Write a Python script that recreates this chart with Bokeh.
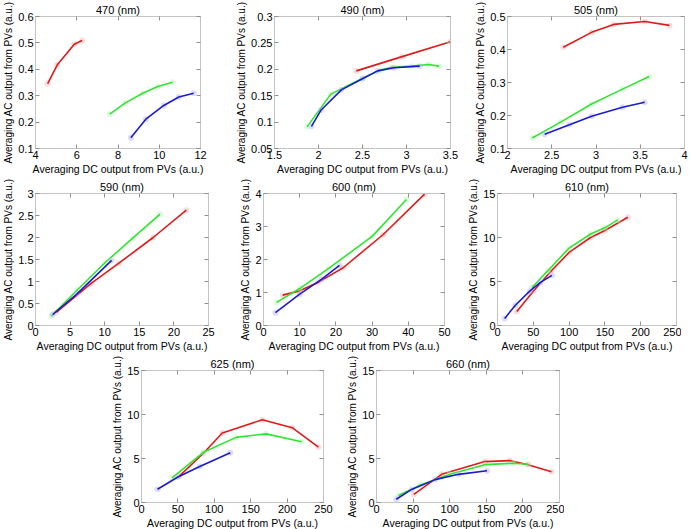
from bokeh.plotting import figure
from bokeh.models import Range1d, FixedTicker, LinearAxis, Spacer
from bokeh.layouts import column, row
from bokeh.embed import file_html
from bokeh.resources import INLINE

# ---------------- data ----------------
titles = ["470 (nm)", "490 (nm)", "505 (nm)", "590 (nm)", "600 (nm)", "610 (nm)", "625 (nm)", "660 (nm)"]
x_label = "Averaging DC output from PVs (a.u.)"
y_label = "Averaging AC output from PVs (a.u.)"

# 470 nm
x470_red = [4.59, 5.05, 5.88, 6.26]
y470_red = [0.346, 0.416, 0.495, 0.509]
x470_green = [7.6, 8.36, 9.2, 9.93, 10.65]
y470_green = [0.230, 0.273, 0.309, 0.335, 0.351]
x470_blue = [8.62, 9.35, 10.22, 10.95, 11.67]
y470_blue = [0.141, 0.211, 0.263, 0.295, 0.309]
xt470 = [4, 6, 8, 10, 12]
yt470 = [0.1, 0.2, 0.3, 0.4, 0.5, 0.6]
xl470 = ["4", "6", "8", "10", "12"]
yl470 = ["0.1", "0.2", "0.3", "0.4", "0.5", "0.6"]

# 490 nm
x490_red = [2.43, 2.95, 3.5]
y490_red = [0.197, 0.224, 0.252]
x490_green = [1.87, 2.14, 2.5, 2.7, 2.83, 3.05, 3.25, 3.37]
y490_green = [0.091, 0.153, 0.183, 0.198, 0.204, 0.206, 0.209, 0.206]
x490_blue = [1.92, 2.03, 2.26, 2.5, 2.67, 2.86, 3.15]
y490_blue = [0.092, 0.123, 0.161, 0.182, 0.197, 0.203, 0.206]
xt490 = [1.5, 2, 2.5, 3, 3.5]
yt490 = [0.05, 0.1, 0.15, 0.2, 0.25, 0.3]
xl490 = ["1.5", "2", "2.5", "3", "3.5"]
yl490 = ["0.05", "0.1", "0.15", "0.2", "0.25", "0.3"]

# 505 nm
x505_red = [2.63, 2.95, 3.2, 3.55, 3.83]
y505_red = [0.407, 0.452, 0.476, 0.485, 0.473]
x505_green = [2.28, 2.6, 2.95, 3.3, 3.6]
y505_green = [0.132, 0.180, 0.235, 0.280, 0.318]
x505_blue = [2.42, 2.7, 2.95, 3.3, 3.55]
y505_blue = [0.143, 0.172, 0.198, 0.225, 0.240]
xt505 = [2, 2.5, 3, 3.5, 4]
yt505 = [0.1, 0.2, 0.3, 0.4, 0.5]
xl505 = ["2", "2.5", "3", "3.5", "4"]
yl505 = ["0.1", "0.2", "0.3", "0.4", "0.5"]

# 590 nm
x590_red = [3.0, 8.0, 12.0, 17.0, 21.8]
y590_red = [0.30, 0.95, 1.41, 2.00, 2.62]
x590_green = [2.3, 6.0, 10.0, 14.0, 18.0]
y590_green = [0.22, 0.80, 1.42, 1.98, 2.53]
x590_blue = [2.5, 6.0, 11.0]
y590_blue = [0.25, 0.72, 1.48]
xt590 = [0, 5, 10, 15, 20, 25]
yt590 = [0, 0.5, 1, 1.5, 2, 2.5, 3]
xl590 = ["0", "5", "10", "15", "20", "25"]
yl590 = ["0", "0.5", "1", "1.5", "2", "2.5", "3"]

# 600 nm
x600_red = [5.3, 10.0, 15.0, 22.0, 33.0, 44.5]
y600_red = [0.92, 1.05, 1.30, 1.75, 2.75, 3.98]
x600_green = [3.6, 10.0, 18.0, 30.0, 39.5]
y600_green = [0.70, 1.12, 1.73, 2.70, 3.82]
x600_blue = [3.3, 10.0, 16.0, 21.0]
y600_blue = [0.39, 0.95, 1.40, 1.82]
xt600 = [0, 10, 20, 30, 40, 50]
yt600 = [0, 1, 2, 3, 4]
xl600 = ["0", "10", "20", "30", "40", "50"]
yl600 = ["0", "1", "2", "3", "4"]

# 610 nm
x610_red = [27, 50, 75, 100, 130, 150, 182]
y610_red = [1.6, 3.9, 6.2, 8.3, 10.0, 10.8, 12.3]
x610_green = [48, 70, 100, 130, 150, 168]
y610_green = [4.3, 6.2, 8.8, 10.4, 11.1, 12.0]
x610_blue = [10, 25, 45, 60, 76]
y610_blue = [0.8, 2.3, 3.9, 4.9, 5.7]
xt610 = [0, 50, 100, 150, 200, 250]
yt610 = [0, 5, 10, 15]
xl610 = ["0", "50", "100", "150", "200", "250"]
yl610 = ["0", "5", "10", "15"]

# 625 nm
x625_red = [52, 85, 111, 166, 207, 243]
y625_red = [3.0, 5.6, 7.9, 9.4, 8.5, 6.3]
x625_green = [42, 85, 130, 171, 220]
y625_green = [2.8, 5.7, 7.4, 7.8, 6.9]
x625_blue = [22, 50, 80, 122]
y625_blue = [1.5, 2.9, 4.1, 5.65]
xt625 = [0, 50, 100, 150, 200, 250]
yt625 = [0, 5, 10, 15]
xl625 = ["0", "50", "100", "150", "200", "250"]
yl625 = ["0", "5", "10", "15"]

# 660 nm
x660_red = [51, 89, 148, 182, 207, 239]
y660_red = [0.93, 3.2, 4.65, 4.76, 4.3, 3.5]
x660_green = [30, 60, 100, 148, 187, 207]
y660_green = [0.8, 2.0, 3.2, 4.3, 4.46, 4.35]
x660_blue = [27, 48, 80, 112, 151]
y660_blue = [0.37, 1.49, 2.6, 3.2, 3.6]
xt660 = [0, 50, 100, 150, 200, 250]
yt660 = [0, 5, 10, 15]
xl660 = ["0", "50", "100", "150", "200", "250"]
yl660 = ["0", "5", "10", "15"]

RED, GREEN, BLUE = "#e01a1a", "#2ee62e", "#1a1ad2"
HALO = {RED: "#f6b4b4", GREEN: "#b8f5b8", BLUE: "#b4b4f6"}
FONT = "Liberation Sans"
BOX = "#c4c4c4"


def style_axis(ax, ticks, labels, show_labels=True, label_size="10.5px"):
    ax.ticker = FixedTicker(ticks=ticks)
    ax.axis_line_color = BOX
    ax.major_tick_line_color = "#909090"
    ax.major_tick_in = 4
    ax.major_tick_out = 0
    ax.minor_tick_line_color = None
    ax.major_label_text_font = FONT
    ax.axis_label_text_font = FONT
    ax.axis_label_text_font_style = "normal"
    ax.axis_label_text_color = "black"
    ax.axis_label_text_font_size = label_size
    ax.axis_label_standoff = 1
    if show_labels:
        ax.major_label_overrides = {t: l for t, l in zip(ticks, labels)}
        ax.major_label_text_font_size = "11px"
        ax.major_label_text_color = "black"
        ax.major_label_standoff = 2
    else:
        ax.major_label_text_color = None
        ax.major_label_text_font_size = "1px"
        ax.major_label_standoff = 0


def make_fig(title, xr, yr, xt, xl, yt, yl, series, fw, fh, bl, br, bt, bb):
    p = figure(output_backend="svg", toolbar_location=None,
               frame_width=fw, frame_height=fh,
               x_range=Range1d(*xr), y_range=Range1d(*yr),
               min_border_left=bl, min_border_right=br,
               min_border_top=bt, min_border_bottom=bb,
               title=title)
    p.title.align = "center"
    p.title.text_font = FONT
    p.title.text_font_style = "normal"
    p.title.text_font_size = "11px"
    p.title.text_color = "black"
    p.title.standoff = 2
    p.grid.visible = False
    p.outline_line_color = BOX
    p.border_fill_color = "white"
    p.background_fill_color = "white"
    style_axis(p.xaxis[0], xt, xl, label_size="10.5px")
    style_axis(p.yaxis[0], yt, yl, label_size="10px")
    p.xaxis[0].axis_label = x_label
    p.yaxis[0].axis_label = y_label
    top = LinearAxis()
    style_axis(top, xt, xl, show_labels=False)
    p.add_layout(top, "above")
    right = LinearAxis()
    style_axis(right, yt, yl, show_labels=False)
    p.add_layout(right, "right")
    for xs, ys, c in series:
        p.scatter(xs, ys, size=6, fill_color=HALO[c], fill_alpha=0.45, line_color=None)
        p.line(xs, ys, line_color=c, line_width=1.6)
    return p


FH = 132
TOP, BOT = 15, 25

f1 = make_fig(titles[0], (4, 12), (0.1, 0.6), xt470, xl470, yt470, yl470,
              [(x470_red, y470_red, RED), (x470_green, y470_green, GREEN), (x470_blue, y470_blue, BLUE)],
              165, FH, 31, 33, TOP, BOT)
f2 = make_fig(titles[1], (1.5, 3.5), (0.05, 0.3), xt490, xl490, yt490, yl490,
              [(x490_red, y490_red, RED), (x490_green, y490_green, GREEN), (x490_blue, y490_blue, BLUE)],
              176, FH, 33, 22, TOP, BOT)
f3 = make_fig(titles[2], (2, 4), (0.1, 0.5), xt505, xl505, yt505, yl505,
              [(x505_red, y505_red, RED), (x505_green, y505_green, GREEN), (x505_blue, y505_blue, BLUE)],
              177, FH, 33, 5, TOP, BOT)

f4 = make_fig(titles[3], (0, 25), (0, 3), xt590, xl590, yt590, yl590,
              [(x590_red, y590_red, RED), (x590_green, y590_green, GREEN), (x590_blue, y590_blue, BLUE)],
              173, FH, 29, 22, TOP, BOT)
f5 = make_fig(titles[4], (0, 50), (0, 4), xt600, xl600, yt600, yl600,
              [(x600_red, y600_red, RED), (x600_green, y600_green, GREEN), (x600_blue, y600_blue, BLUE)],
              181, FH, 33, 20, TOP, BOT)
f6 = make_fig(titles[5], (0, 250), (0, 15), xt610, xl610, yt610, yl610,
              [(x610_red, y610_red, RED), (x610_green, y610_green, GREEN), (x610_blue, y610_blue, BLUE)],
              179, FH, 33, 5, TOP, BOT)

f7 = make_fig(titles[6], (0, 250), (0, 15), xt625, xl625, yt625, yl625,
              [(x625_red, y625_red, RED), (x625_green, y625_green, GREEN), (x625_blue, y625_blue, BLUE)],
              182, FH, 33, 20, TOP, BOT)
f8 = make_fig(titles[7], (0, 250), (0, 15), xt660, xl660, yt660, yl660,
              [(x660_red, y660_red, RED), (x660_green, y660_green, GREEN), (x660_blue, y660_blue, BLUE)],
              183, FH, 33, 5, TOP, BOT)

layout = column(
    row(f1, f2, f3),
    row(f4, f5, f6),
    row(Spacer(width=108, height=10), f7, f8),
)

open("out.html", "w").write(file_html(layout, INLINE))
